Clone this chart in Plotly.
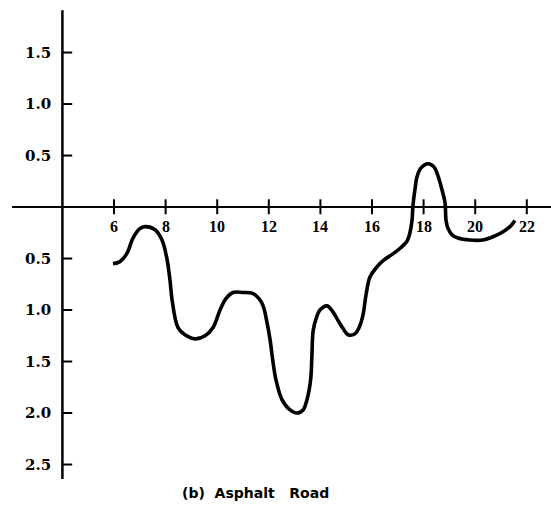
import plotly.graph_objects as go

# Curve data (hour of day vs. value; below axis negative)
hours = [5.96, 6.23, 6.50, 6.74, 7.00, 7.20, 7.59, 7.86, 8.05, 8.17, 8.25, 8.48, 8.75, 9.14, 9.53, 9.84,
         10.11, 10.34, 10.61, 11.00, 11.39, 11.62, 11.78, 11.93, 12.05, 12.16, 12.28, 12.51,
         12.82, 13.09, 13.33, 13.48, 13.62, 13.67, 13.72, 13.85, 13.98, 14.26, 14.49, 14.68,
         14.88, 15.07, 15.34, 15.50, 15.65, 15.77, 15.92, 16.16, 16.43, 16.78, 17.09, 17.36,
         17.47, 17.55, 17.59, 17.67, 17.74, 17.90, 18.17, 18.40, 18.56, 18.71, 18.83, 18.87,
         18.95, 19.10, 19.33, 19.80, 20.30, 20.77, 21.08, 21.35, 21.54]
values = [-0.55, -0.53, -0.45, -0.30, -0.21, -0.19, -0.22, -0.32, -0.50, -0.71, -0.90, -1.17, -1.24, -1.28,
          -1.25, -1.17, -1.00, -0.89, -0.83, -0.83, -0.84, -0.89, -0.96, -1.12, -1.29, -1.50,
          -1.68, -1.87, -1.97, -2.00, -1.97, -1.87, -1.68, -1.45, -1.20, -1.07, -1.00, -0.96,
          -1.02, -1.10, -1.18, -1.24, -1.23, -1.17, -1.05, -0.85, -0.68, -0.59, -0.52, -0.46,
          -0.40, -0.33, -0.25, -0.13, 0.02, 0.18, 0.29, 0.38, 0.42, 0.39, 0.30, 0.17, 0.04,
          -0.13, -0.21, -0.27, -0.30, -0.32, -0.32, -0.28, -0.24, -0.19, -0.13]

x_ticks = [6, 8, 10, 12, 14, 16, 18, 20, 22]
x_tick_labels = ["6", "8", "10", "12", "14", "16", "18", "20", "22"]
y_ticks = [1.5, 1.0, 0.5, -0.5, -1.0, -1.5, -2.0, -2.5]
y_tick_labels = ["1.5", "1.0", "0.5", "0.5", "1.0", "1.5", "2.0", "2.5"]
caption = "(b)\u00a0\u00a0Asphalt\u00a0\u00a0\u00a0Road"

# axis geometry (data units)
X_RANGE = [1.581, 22.938]
Y_RANGE = [-2.893, 2.010]
Y_AXIS_X = 4.0
X_AXIS_EXTENT = [2.05, 22.94]
Y_AXIS_EXTENT = [-2.64, 1.91]

fig = go.Figure()
fig.add_trace(go.Scatter(x=hours, y=values, mode="lines",
                         line=dict(color="black", width=3.6, shape="spline", smoothing=1.0),
                         hoverinfo="skip", showlegend=False))

shapes = []
# axes
shapes.append(dict(type="line", x0=X_AXIS_EXTENT[0], x1=X_AXIS_EXTENT[1], y0=0, y1=0,
                   line=dict(color="black", width=2)))
shapes.append(dict(type="line", x0=Y_AXIS_X, x1=Y_AXIS_X, y0=Y_AXIS_EXTENT[0], y1=Y_AXIS_EXTENT[1],
                   line=dict(color="black", width=2.5)))
annotations = []
for xv, lab in zip(x_ticks, x_tick_labels):
    shapes.append(dict(type="line", x0=xv, x1=xv, y0=-0.07, y1=0.075,
                       line=dict(color="black", width=2)))
    annotations.append(dict(x=xv, y=-0.19, text="<b>%s</b>" % lab, showarrow=False,
                            xanchor="center", yanchor="middle",
                            font=dict(family="Liberation Serif", size=16, color="black")))
for yv, lab in zip(y_ticks, y_tick_labels):
    shapes.append(dict(type="line", x0=Y_AXIS_X, x1=Y_AXIS_X + 0.38, y0=yv, y1=yv,
                       line=dict(color="black", width=2)))
    annotations.append(dict(x=3.64, y=yv, text="<b>%s</b>" % lab, showarrow=False,
                            xanchor="right", yanchor="middle",
                            font=dict(family="DejaVu Serif", size=15, color="black")))
annotations.append(dict(x=11.47, y=-2.78, text="<b>%s</b>" % caption, showarrow=False,
                        xanchor="center", yanchor="middle",
                        font=dict(family="DejaVu Sans", size=14, color="black")))

fig.update_layout(
    width=551, height=505,
    margin=dict(l=0, r=0, t=0, b=0),
    paper_bgcolor="white", plot_bgcolor="white",
    xaxis=dict(range=X_RANGE, visible=False, fixedrange=True),
    yaxis=dict(range=Y_RANGE, visible=False, fixedrange=True),
    shapes=shapes, annotations=annotations,
)
fig.write_html("out.html", config={"displayModeBar": False},
               post_script="document.body.style.margin='0';document.body.style.overflow='hidden';")
